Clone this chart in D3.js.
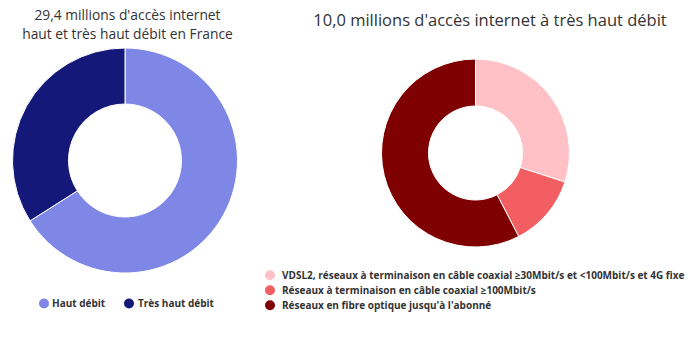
<!DOCTYPE html>
<html><head><meta charset="utf-8">
<script src="https://cdn.jsdelivr.net/npm/d3@7"></script>
<style>
html,body{margin:0;padding:0;background:#fff;}
svg{display:block;}
</style></head>
<body>
<svg id="c" width="700" height="338"></svg>
<script>
const leftTitle = ["29,4 millions d'accès internet", "haut et très haut débit en France"];
const leftCategories = ["Haut débit", "Très haut débit"];
const leftValues = [19.4, 10.0];
const leftColors = ["#7f87e6", "#141878"];

const rightTitle = ["10,0 millions d'accès internet à très haut débit"];
const rightCategories = [
  "VDSL2, réseaux à terminaison en câble coaxial ≥30Mbit/s et <100Mbit/s et 4G fixe",
  "Réseaux à terminaison en câble coaxial ≥100Mbit/s",
  "Réseaux en fibre optique jusqu'à l'abonné"
];
const rightValues = [3.0, 1.24, 5.76];
const rightColors = ["#ffc1c6", "#f25e62", "#7e0000"];

const svg = d3.select("#c");
const titleFont = "'Open Sans', sans-serif";
const legFont = "'Open Sans', sans-serif";

function donut(cx, cy, rOut, rIn, values, colors) {
  const pie = d3.pie().sort(null).startAngle(0).endAngle(2 * Math.PI);
  const arc = d3.arc().innerRadius(rIn).outerRadius(rOut);
  svg.append("g").attr("transform", `translate(${cx},${cy})`)
    .selectAll("path").data(pie(values)).join("path")
    .attr("d", arc)
    .attr("fill", (d, i) => colors[i])
    .attr("stroke", "#fff").attr("stroke-width", 1).attr("stroke-linejoin", "round");
}

function title(cx, y0, lines, size, lh) {
  svg.append("text").attr("x", cx).attr("y", y0)
    .attr("text-anchor", "middle")
    .style("font-family", titleFont).style("font-size", size + "px").style("fill", "#333")
    .selectAll("tspan").data(lines).join("tspan")
    .attr("x", cx).attr("dy", (d, i) => i === 0 ? 0 : lh).text(d => d);
}

title(127.5, 20, leftTitle, 13.8, 18.5);
title(490, 26, rightTitle, 16.5, 20);

donut(125, 160.5, 112.5, 56.5, leftValues, leftColors);
donut(475.5, 153, 94, 47, rightValues, rightColors);

const lx = [44, 129];
leftCategories.forEach((c, i) => {
  svg.append("circle").attr("cx", lx[i]).attr("cy", 303.5).attr("r", 5).attr("fill", leftColors[i]);
  svg.append("text").attr("x", lx[i] + (i === 0 ? 8 : 9)).attr("y", 307.2)
    .style("font-family", legFont).style("font-size", "10px").style("font-weight", "bold").style("fill", "#333")
    .text(c);
});
rightCategories.forEach((c, i) => {
  const y = 275.3 + i * 15;
  svg.append("circle").attr("cx", 270).attr("cy", y).attr("r", 5).attr("fill", rightColors[i]);
  svg.append("text").attr("x", 282).attr("y", y + 3.7)
    .style("font-family", legFont).style("font-size", "10px").style("font-weight", "bold").style("fill", "#333")
    .text(c);
});
</script>
</body></html>
